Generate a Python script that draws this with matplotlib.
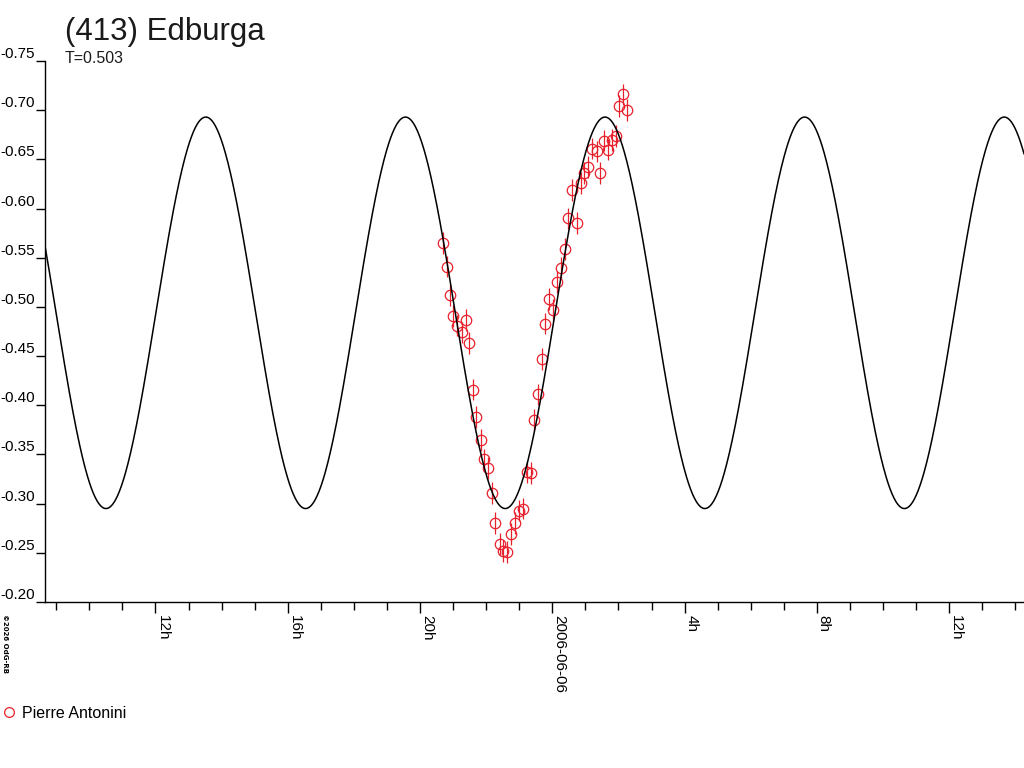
import numpy as np
import matplotlib
matplotlib.use("Agg")
import matplotlib.pyplot as plt
from matplotlib.lines import Line2D
from matplotlib.ticker import FixedLocator

plt.rcParams["font.family"] = ["Liberation Sans", "DejaVu Sans"]

# observations: hours relative to 2006-06-06 00:00 UT, relative magnitude, error
hours = [-3.314, -3.193, -3.093, -2.994, -2.873, -2.740, -2.619, -2.510, -2.407, -2.307,
         -2.165, -2.056, -1.935, -1.823, -1.724, -1.581, -1.482, -1.361, -1.249, -1.128,
         -1.007, -0.895, -0.774, -0.653, -0.562, -0.423, -0.302, -0.212, -0.091, 0.021,
         0.151, 0.272, 0.393, 0.484, 0.605, 0.756, 0.868, 0.968, 1.089, 1.191,
         1.343, 1.442, 1.554, 1.675, 1.796, 1.935, 2.017, 2.138, 2.259]
mags = [-0.565, -0.541, -0.512, -0.491, -0.481, -0.474, -0.487, -0.463, -0.416, -0.388,
        -0.365, -0.345, -0.336, -0.311, -0.280, -0.259, -0.252, -0.251, -0.269, -0.280,
        -0.293, -0.295, -0.332, -0.331, -0.385, -0.411, -0.447, -0.483, -0.508, -0.497,
        -0.525, -0.540, -0.559, -0.590, -0.619, -0.585, -0.626, -0.636, -0.642, -0.661,
        -0.658, -0.636, -0.669, -0.660, -0.670, -0.674, -0.704, -0.716, -0.700]
errs = [0.011] * len(mags)

# fitted lightcurve (two maxima per rotation)
period_days = 0.503
h_peak = 1.594
mag_mean = -0.494
mag_amp = 0.199

tick_hours = [-12, -8, -4, 0, 4, 8, 12]
tick_labels = ["12h", "16h", "20h", "2006-06-06", "4h", "8h", "12h"]
y_ticks = [-0.75, -0.70, -0.65, -0.60, -0.55, -0.50, -0.45, -0.40, -0.35, -0.30, -0.25, -0.20]

RED = "#e8202c"

fig = plt.figure(figsize=(10.24, 7.68), dpi=100)
ax = fig.add_axes([45 / 1024, 166 / 768, 979 / 1024, 541 / 768])

x_lo, x_hi = (45 - 552.3) / 33.07, (1024 - 552.3) / 33.07
xs = np.linspace(x_lo, x_hi, 1500)
half_period_h = period_days * 24 / 2
curve = mag_mean - mag_amp * np.cos(2 * np.pi * (xs - h_peak) / half_period_h)

ax.errorbar(hours, mags, yerr=errs, fmt="o", mfc="none", mec=RED, ecolor=RED,
            ms=7.5, mew=0.9, elinewidth=0.9, capsize=0, zorder=2)
ax.plot(xs, curve, color="black", lw=1.1, zorder=3)

ax.set_xlim(x_lo, x_hi)
ax.set_ylim(-0.20, -0.75)

for s in ["top", "right"]:
    ax.spines[s].set_visible(False)
for s in ["left", "bottom"]:
    ax.spines[s].set_linewidth(1.0)

ax.set_yticks(y_ticks)
ax.set_yticklabels([f"{v:.2f}" for v in y_ticks])
ax.tick_params(axis="y", direction="out", length=6.5, width=1.0, pad=1, labelsize=11)
for lab in ax.get_yticklabels():
    lab.set_verticalalignment("bottom")

ax.set_xticks(tick_hours)
ax.set_xticklabels(tick_labels, rotation=270, ha="left", va="top")
ax.xaxis.set_minor_locator(FixedLocator(list(range(-15, 15))))
ax.tick_params(axis="x", which="major", direction="out", length=8, width=1.0, pad=1.5, labelsize=11)
ax.tick_params(axis="x", which="minor", direction="out", length=6, width=1.0)

fig.text(65 / 1024, 1 - 40 / 768, "(413) Edburga", fontsize=22.5, color="#1a1a1a", va="baseline")
fig.text(65 / 1024, 1 - 63 / 768, "T=0.503", fontsize=11.5, color="#1a1a1a", va="baseline")
fig.text(2 / 1024, 1 - 614 / 768, "©2026 OdG-RB", fontsize=5, weight="bold", rotation=270,
         ha="left", va="top", family=["DejaVu Sans"])

handle = Line2D([], [], ls="none", marker="o", mfc="none", mec=RED, ms=7, mew=0.9)
fig.legend([handle], ["Pierre Antonini"], loc="center left", bbox_to_anchor=(0.0, 1 - 713 / 768),
           frameon=False, fontsize=11.5, handlelength=0.9, handletextpad=0.35, borderpad=0.1,
           borderaxespad=0)

fig.savefig("out.png", dpi=100)
